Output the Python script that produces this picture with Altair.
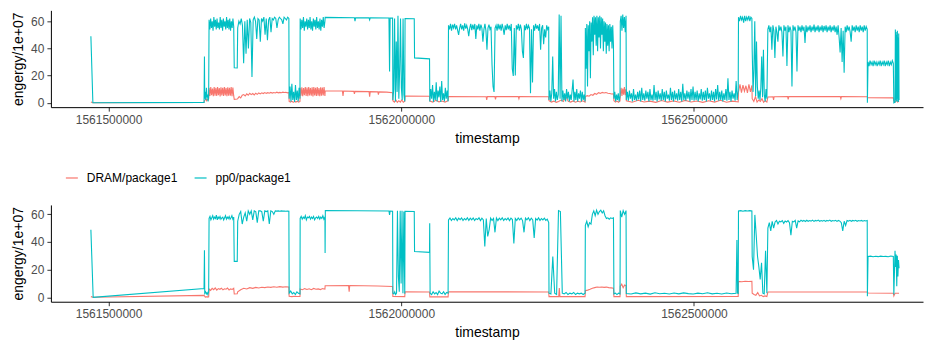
import altair as alt
import numpy as np
import pandas as pd

T0 = 1561400000          # timestamps below are given in thousands of seconds after T0
SERIES = ["DRAM/package1", "pp0/package1"]
COLORS = ["#F8766D", "#00BFC4"]
X_TICKS = [1561500000, 1562000000, 1562500000]
Y_TICKS = [0, 20, 40, 60]

# runs: (t_start, t_end, values) -- the values of a run are sampled evenly between t_start and t_end
TOP_PP0 = [
    (69.8, 73.2, [49, 0]),
    (263.1, 263.1, [0.3]),
    (263.8, 263.8, [34]),
    (264.3, 271.0, [3, 8, 2, 11, 4, 6, 1, 5]),
    (271.7, 313.8, [61, 54, 62, 55, 60, 53, 63, 56, 61, 54, 62, 55, 59, 54, 63, 55, 61, 53, 62, 56,
                    60, 54, 63, 55, 61, 54, 62, 53, 60, 55, 62, 56]),
    (314.7, 319.8, [25.8, 25.6]),
    (320.6, 408.0, [55, 60, 58, 62, 57, 29, 60, 36, 61, 40, 62, 59, 19, 61, 63, 60, 47, 62, 61, 45,
                    62, 60, 63, 50, 62, 46, 61, 63, 52, 62, 61, 63, 62, 55, 61, 63, 62, 61, 58, 63,
                    62, 61, 63, 62]),
    (408.5, 427.0, [3, 12, 1, 14, 2, 8, 0.5, 13, 2, 9, 1, 11, 3]),
    (427.3, 469.6, [62, 54, 61, 55, 63, 53, 60, 56, 62, 54, 61, 55, 63, 54, 60, 53, 62, 56, 61, 54,
                    63, 55, 60, 54, 62, 53, 61, 56, 63, 55, 60]),
    (470.0, 470.0, [62.8]),
    (520.0, 522.0, [62.6, 60, 62.6]),
    (545.0, 547.0, [62.5, 61, 62.5]),
    (579.0, 581.0, [62.4, 23, 62.4]),
    (585.2, 585.2, [62.3]),
    (585.7, 606.0, [2, 10, 62, 1, 45, 8, 64, 3, 25, 62, 11, 2, 62, 6, 1]),
    (606.5, 622.2, [62, 61.8]),
    (622.7, 648.3, [33, 32.3]),
    (648.8, 680.0, [1, 10, 3, 13, 0.5, 8, 2, 15, 1, 9, 4, 12, 0.5, 16, 2, 7, 1, 11, 3, 9, 1]),
    (680.7, 851.9, [57, 54, 58, 53, 57.5, 55, 58, 54, 57, 53.5,
                    50, 55, 58, 54, 57, 53, 58.5, 54.5, 57, 54,
                    49, 55, 58, 53.5, 57.5, 54, 58, 47, 57, 54,
                    58, 53, 57.5, 55, 45, 54, 58, 53, 39, 55,
                    57.5, 54, 56, 28, 12, 8, 55, 57, 53, 58,
                    54, 57.5, 53, 58, 54.5, 50, 57, 53.5, 58, 54,
                    57, 53, 58, 25, 19.7, 55, 20, 57, 54, 58,
                    53, 57.5, 54, 38, 33, 57, 53.5, 58, 54, 57,
                    55, 7, 54, 15, 57, 53, 58, 54.5, 57, 53,
                    58, 39, 55, 57, 43, 54, 48, 57, 54, 56]),
    (852.4, 914.0, [2, 9, 1, 7, 34, 3, 10, 1, 8, 2, 6, 65, 3, 64, 1, 9, 2, 7, 1, 10,
                    3, 8, 1, 6, 2, 9, 17, 1, 8, 2, 10, 1, 7, 3, 9, 1, 8, 2, 6, 1]),
    (914.5, 962.5, [55, 25, 58, 12, 57, 38, 60, 18, 59, 45, 63, 35, 64, 50, 63, 42, 64, 38, 63, 48,
                    64, 40, 63, 50, 62, 38, 60, 45, 59, 36, 58, 42, 57, 38, 58, 45, 56, 40, 57, 42]),
    (963.3, 973.7, [3, 8, 1, 6, 2, 7, 1, 5]),
    (974.2, 984.0, [60, 64, 53, 65, 55, 63, 52, 64]),
    (984.5, 1175.6, [2, 8, 1.5, 9, 3, 7, 1, 10, 2, 6, 1.5, 8, 2.5, 9, 1, 11, 2, 7, 1.5, 9,
                     3, 8, 1, 10, 2, 6, 1.5, 13, 2, 8, 1, 9, 2.5, 7, 1.5, 10, 2, 8, 1, 9,
                     3, 6, 1.5, 11, 2, 8, 1, 9, 2.5, 7, 1.5, 10, 2, 8, 1, 14, 2, 7, 1.5, 9,
                     3, 8, 1, 10, 2, 12, 1.5, 8, 2, 9, 1, 7, 2.5, 10, 1.5, 8, 2, 9, 1, 11,
                     3, 7, 1.5, 9, 2, 8, 1, 10, 2.5, 13, 1.5, 8, 2, 9, 1, 7, 2, 10, 1.5, 18,
                     2, 8, 1, 9, 3, 7, 1.5, 16, 2, 9]),
    (1176.1, 1199.0, [63, 60, 64, 61, 63, 59, 64, 60, 63, 61, 64, 60, 63, 62]),
    (1199.5, 1224.6, [39, 8, 25, 60, 5, 45, 12, 3, 9, 2, 11, 34, 4, 39, 6, 1, 10, 3]),
    (1226.3, 1396.0, [54, 57, 52, 56, 39, 57, 53, 33, 56, 52,
                      45, 57, 53, 56, 52, 34, 57, 53, 56, 27,
                      57, 52, 56, 53, 12, 57, 53, 56, 52, 23,
                      57, 53, 56, 52, 57, 53, 56, 44, 57, 52,
                      56, 53, 57, 52, 56, 53, 57.5, 52, 56, 53,
                      57, 52, 56, 53, 57, 52, 56.5, 53, 57, 52,
                      56, 53, 57, 52, 56, 53, 57, 52, 56, 50,
                      57, 48, 37, 55, 30, 53, 22, 56, 52, 57,
                      53, 56, 52, 45, 57, 53, 56, 52, 57, 53,
                      56, 52, 57, 53, 56, 52, 57, 53, 56, 54]),
    (1396.3, 1396.3, [0]),
    (1397.4, 1440.6, [30, 27, 31, 28, 30, 27, 31, 28, 30, 27, 30, 28, 31, 27, 30, 28, 31, 27, 30, 28,
                      31, 27, 30, 28, 31, 29]),
    (1441.5, 1441.5, [0]),
    (1443.5, 1450.4, [0.5, 54, 2, 52, 1, 50, 3, 53, 1, 48, 0.5, 51, 2]),
]

TOP_DRAM = [
    (69.8, 73.2, [0.5, 0]),
    (263.1, 263.1, [0.3]),
    (263.8, 271.0, [1.5, 2, 3, 1.5, 2.5, 2, 3]),
    (271.7, 313.8, [11, 5, 11.5, 5.5, 10.5, 4.8, 11.5, 5.2, 11, 5, 11.5, 5.5, 10.8, 4.7, 11.4, 5.3,
                    11, 5, 11.6, 5.4, 10.9, 4.9, 11.3, 5.1, 11, 5.2, 11.5, 4.8, 11.2, 5]),
    (314.7, 319.8, [2.5, 2.7]),
    (320.6, 408.0, [3, 4.5, 3.5, 5.5, 6, 5, 6.5, 5.5, 7, 6, 6.8, 5.8, 7, 6.2, 7.2, 6.5, 7.3, 6.8,
                    7.5, 6.9, 7.4, 7, 7.6, 7.1, 7.5, 7.2, 7.8, 7.3, 7.6, 7.4, 7.8, 7.5, 7.7, 7.3, 7.6]),
    (408.5, 427.0, [1, 0.5, 1.2, 0.3, 1, 0.5, 1.1, 0.4, 1]),
    (427.3, 469.6, [11, 5.2, 11.4, 4.8, 10.8, 5.5, 11.6, 5, 11.2, 4.9, 11.5, 5.3, 10.9, 5.1, 11.3,
                    4.7, 11.5, 5.4, 11, 5, 11.6, 5.2, 10.8, 4.9, 11.4, 5.1, 11.1, 5.3, 11.5, 5]),
    (470.0, 490.0, [8.7, 8.6]),
    (499.5, 501.5, [8.6, 5, 8.6]),
    (519.0, 521.0, [8.4, 6.5, 8.4]),
    (545.0, 547.0, [8.2, 4.5, 8.2]),
    (560.0, 562.0, [8.0, 6, 8.0]),
    (575.0, 585.2, [7.8, 7.3]),
    (585.7, 606.0, [1.5, 0.5, 2, 0.3, 1.5, 0.5, 2, 0.4, 1.2]),
    (606.5, 648.3, [5, 4.8]),
    (648.8, 680.0, [1.2, 0.5, 1.8, 0.7, 1.3, 0.5, 1.5]),
    (680.7, 745.0, [4.6, 4.4]),
    (746.0, 746.0, [2]),
    (747.0, 760.0, [4.5, 4.5]),
    (761.0, 761.0, [2.5]),
    (762.0, 800.0, [4.5, 4.5]),
    (801.0, 801.0, [3]),
    (802.0, 851.9, [4.5, 4.4]),
    (852.4, 914.0, [1.5, 0.5, 1.2, 0.3, 1, 2, 1, 5, 1, 0.5, 1.3, 0.4, 1.1, 0.6, 1.4, 0.5]),
    (914.5, 962.5, [4.5, 5.2, 4.8, 6, 5.5, 6.8, 6.2, 7.4, 6.9, 7.6, 7.2, 7.5, 7, 6.8, 6.4, 6.6]),
    (963.3, 973.7, [1.5, 0.5, 1.2, 0.4, 1.3]),
    (974.2, 984.0, [6, 11, 5, 10.5, 6, 11.5, 5.5, 10]),
    (984.5, 1175.6, [1.5, 0.4, 1.8, 0.6, 1.2, 0.3, 1.6, 0.5, 1.4, 0.4, 1.7, 0.6, 1.3, 0.3, 1.5,
                     0.5, 1.8, 0.4, 1.2, 0.6]),
    (1176.1, 1199.0, [8, 13.5, 7.5, 13, 8.5, 12.5, 7.2, 13.6, 8, 12.8]),
    (1199.5, 1224.6, [3, 1, 4.5, 0.5, 2, 1, 3, 0.3, 1.5, 0.5]),
    (1226.3, 1235.0, [4.2, 4.4]),
    (1236.0, 1236.0, [2]),
    (1237.0, 1260.0, [4.4, 4.5]),
    (1261.0, 1261.0, [2.5]),
    (1262.0, 1350.0, [4.5, 4.5]),
    (1351.0, 1351.0, [3]),
    (1352.0, 1396.0, [4.5, 4.4]),
    (1396.8, 1440.6, [3.8, 3.6]),
    (1441.5, 1450.4, [1.5, 0.5, 2, 0.5, 1.5]),
]

BOT_PP0 = [
    (69.8, 73.7, [48.8, 0]),
    (263.1, 263.1, [6.3]),
    (263.8, 263.8, [34]),
    (264.3, 271.0, [3, 4, 2.5, 3.5, 2, 4]),
    (271.7, 313.8, [57, 58.5, 56, 57.5, 59, 56.5, 58, 57, 59.5, 56, 58, 57, 58.5, 56.5, 57.5, 58,
                    56, 57.5, 59, 56.5, 58, 57, 58.5, 56.5, 57.5, 59, 56.5, 58]),
    (314.7, 319.8, [26, 26]),
    (320.6, 408.0, [55, 60, 62, 53, 58, 61, 55, 62.5, 60, 62.5, 56, 62.5, 62, 54, 62.5, 62.5, 62,
                    55, 62.5, 62, 62.5, 53, 62.5, 62, 60, 62.5, 62.3, 62.5, 62.2, 62.5, 62.3, 62.4,
                    62.2, 62.4, 62.2]),
    (408.5, 427.0, [3, 4.5, 2.5, 3.5, 2, 4, 3, 2.5]),
    (427.3, 469.6, [57, 58.5, 56.5, 58, 57, 59, 56, 58, 57.5, 58.5, 56.5, 58, 57, 58.5, 56, 57.5,
                    58, 57, 58.5, 56.5, 58, 57, 59, 56.5, 58]),
    (469.9, 469.9, [32]),
    (470.3, 579.0, [62.8, 62.4]),
    (580.0, 580.0, [59.6]),
    (581.0, 585.2, [62.4, 62.3]),
    (585.7, 606.0, [3, 2.5, 4, 2, 3, 62.5, 15, 4, 62.5, 10, 62.5, 3, 62, 2.5]),
    (606.5, 622.2, [62.2, 62]),
    (622.7, 648.3, [33.1, 32.5]),
    (648.6, 648.6, [53.5]),
    (649.3, 680.0, [3, 2, 4, 2.5, 3.5, 2, 4.5, 3, 2.5, 4, 2, 3.5, 3]),
    (680.7, 851.9, [56, 57.3, 55.5, 57, 56, 57.5, 55.5, 57.2, 56.2, 57.4,
                    55.5, 57, 56, 57.5, 55.6, 57.2, 56, 57.4, 55.5, 57,
                    56.2, 57.5, 55.5, 57.2, 56, 36.7, 57, 44, 49, 57.3,
                    55.6, 57, 47, 57.4, 55.5, 57.2, 56, 57.5, 55.5, 57,
                    56, 57.4, 55.5, 57.2, 56.2, 39, 57, 55.6, 57.4, 56,
                    57.2, 55.5, 47, 57.3, 56, 57.5, 55.5, 57.2, 56, 43,
                    57, 55.8, 57.4, 55.5, 57, 56, 57.2, 55.6, 56.5, 54]),
    (852.4, 914.0, [3, 2.5, 29.5, 3, 2, 62.7, 62, 3, 2.5, 3.5, 2, 3, 2.5, 3.5, 2, 3, 2.5, 3, 2, 3]),
    (914.5, 962.5, [52, 55, 51, 54, 53, 60, 62.5, 59, 63, 60, 62, 63, 61, 62.5, 59, 57, 57.5, 56.5,
                    57.5, 57, 57.5]),
    (963.3, 973.7, [2.5, 3, 2, 3, 2.5]),
    (974.2, 984.0, [62.7, 58, 62.7, 60, 62.7]),
    (984.5, 1172.0, [2.8, 2.4, 3.2, 2.5, 3, 2.3, 3.3, 2.6, 2.9, 2.4, 3.1, 2.5, 3.2, 2.7, 2.4, 3,
                     2.6, 3.3, 2.5, 2.9, 2.4, 3.1, 2.6, 3]),
    (1173.4, 1173.4, [41.5]),
    (1174.5, 1175.6, [3, 2.8]),
    (1176.1, 1199.0, [62.4, 62.7, 62.2, 62.7, 62.4, 62.7, 62.5]),
    (1199.5, 1224.6, [29.5, 20, 59.6, 45, 29.5, 22, 13, 25, 3, 2.5, 33.6, 3]),
    (1226.3, 1396.0, [50, 54, 48, 55, 50, 54.5, 55.5, 53, 55, 54.5,
                      55.5, 53.5, 55.2, 54.5, 55.5, 54, 45, 55, 54.5, 55.6,
                      50, 55.2, 54.6, 55.8, 55, 55.6, 54.8, 55.7, 55, 55.5,
                      55.1, 55.8, 54.9, 55.6, 55.2, 55.8, 55, 55.5, 55.1, 55.7,
                      54.9, 55.6, 55.2, 55.8, 55, 55.5, 55.2, 55.7, 54.9, 55.6,
                      55.1, 54, 48, 55, 52, 55.5, 55.1, 55.7, 55, 55.6,
                      55.2, 55.7, 55, 55.5, 55.2, 55.6, 55, 55.5, 55.2, 55.5]),
    (1396.3, 1396.3, [0.7]),
    (1397.4, 1440.6, [29.5, 29.8, 29.3, 29.7, 29.4, 29.8, 29.5, 29.6, 29.3, 29.9, 29.5]),
    (1441.5, 1441.5, [2]),
    (1443.5, 1450.4, [33.6, 22, 31, 8, 30, 15, 27, 21]),
]

BOT_DRAM = [
    (69.8, 73.7, [0.5, 0]),
    (263.1, 263.1, [1.4]),
    (263.8, 271.0, [1, 0.2, 0.3, 0.5, 0.2, 0.4]),
    (271.7, 313.8, [6, 5, 6.5, 5.5, 6.8, 5.2, 6.3, 5.8, 6.6, 5.4, 6.2, 5.9, 6.7, 5.3, 6.1, 5.7, 6.5]),
    (314.7, 319.8, [2.4, 2.6]),
    (320.6, 408.0, [4, 5.5, 6.5, 6, 7, 6.5, 7.2, 6.8, 7.3, 7, 7.5, 7.2, 7.6, 7.3, 7.7, 7.4, 7.6, 7.5]),
    (408.5, 427.0, [0.7, 0.5, 0.8, 0.6, 0.7]),
    (427.3, 469.6, [6, 5.5, 6.3, 5.7, 6.2, 5.5, 6.4, 5.8, 6.1, 5.6, 6.3, 5.9]),
    (470.0, 510.0, [8.4, 8.5]),
    (511.0, 511.0, [4]),
    (512.0, 560.0, [8.5, 8.2]),
    (585.2, 585.2, [7.8]),
    (585.7, 606.0, [0.7, 0.5]),
    (606.5, 648.3, [4, 3.8]),
    (648.8, 680.0, [0.3, 0.3]),
    (680.7, 851.9, [4, 3.9]),
    (852.4, 869.0, [0.5, 0.5]),
    (870.0, 870.0, [6.7]),
    (871.0, 914.0, [0.5, 0.5]),
    (914.5, 962.5, [4.8, 5.2, 5.8, 6.5, 7, 7.4, 7.3, 7.5, 7.2, 7.4, 7, 6.8, 6.6]),
    (963.3, 973.7, [0.5, 0.5]),
    (974.2, 984.0, [8, 9.5, 7, 9, 8.5]),
    (984.5, 1175.6, [0.5, 0.6]),
    (1176.1, 1199.0, [11.5, 11.3, 11.6, 11.4, 11.5]),
    (1199.5, 1224.6, [3, 2, 1.5, 3.5, 1, 1.5, 0.5, 1, 0.5]),
    (1226.3, 1396.0, [3.8, 3.8]),
    (1397.4, 1440.6, [3.1, 3]),
    (1441.5, 1441.5, [1]),
    (1443.5, 1450.4, [3, 3]),
]


def to_frame(runs, series):
    rows = []
    for t0, t1, vals in runs:
        ts = np.linspace(t0, t1, len(vals)) if len(vals) > 1 else [t0]
        for t, v in zip(ts, vals):
            rows.append({"timestamp": T0 + t * 1000.0, "value": v, "series": series})
    df = pd.DataFrame(rows)
    df["idx"] = np.arange(len(df))
    return df


FONT = "Liberation Sans"
X_DOMAIN = [1561401500, 1562891300]


def panel(dram_runs, pp0_runs, ydomain, stroke, legend):
    color = alt.Color(
        "series:N",
        scale=alt.Scale(domain=SERIES, range=COLORS),
        legend=legend,
    )
    x = alt.X("timestamp:Q", title="timestamp",
              scale=alt.Scale(domain=X_DOMAIN, nice=False, zero=False),
              axis=alt.Axis(values=X_TICKS, format="d"))
    y = alt.Y("value:Q", title="engergy/1e+07",
              scale=alt.Scale(domain=ydomain, nice=False, zero=False),
              axis=alt.Axis(values=Y_TICKS))
    layers = []
    for runs, name in ((dram_runs, SERIES[0]), (pp0_runs, SERIES[1])):
        layers.append(
            alt.Chart(to_frame(runs, name)).mark_line(strokeWidth=stroke, clip=True).encode(
                x=x, y=y, color=color, order=alt.Order("idx:Q")
            )
        )
    return alt.layer(*layers).properties(width=874, height=97)


legend = alt.Legend(
    orient="none", legendX=14, legendY=-34, direction="horizontal", title=None,
    symbolType="stroke", symbolSize=144, symbolStrokeWidth=1.2,
    labelFont=FONT, labelFontSize=12, labelColor="black", labelOffset=8,
    columnPadding=14,
)

top = panel(TOP_DRAM, TOP_PP0, [-3.24, 68.0], 1.1, None)
bottom = panel(BOT_DRAM, BOT_PP0, [-3.18, 66.8], 1.1, legend)

chart = (
    alt.vconcat(top, bottom, spacing=24)
    .resolve_scale(color="independent")
    .properties(padding={"left": 3, "top": 1, "right": 0, "bottom": 0}, background="white")
    .configure_view(stroke="transparent")
    .configure_axis(
        grid=False, domainColor="black", domainWidth=1, tickColor="#333333", tickSize=4,
        tickWidth=1, labelColor="#4D4D4D", labelFont=FONT, labelFontSize=12, labelPadding=3,
        titleFont=FONT, titleFontSize=14, titleFontWeight="normal", titleColor="black",
    )
    .configure_axisX(titlePadding=6)
    .configure_axisY(titlePadding=5)
)

chart.save("out.html", embed_options={"renderer": "svg", "actions": False})
